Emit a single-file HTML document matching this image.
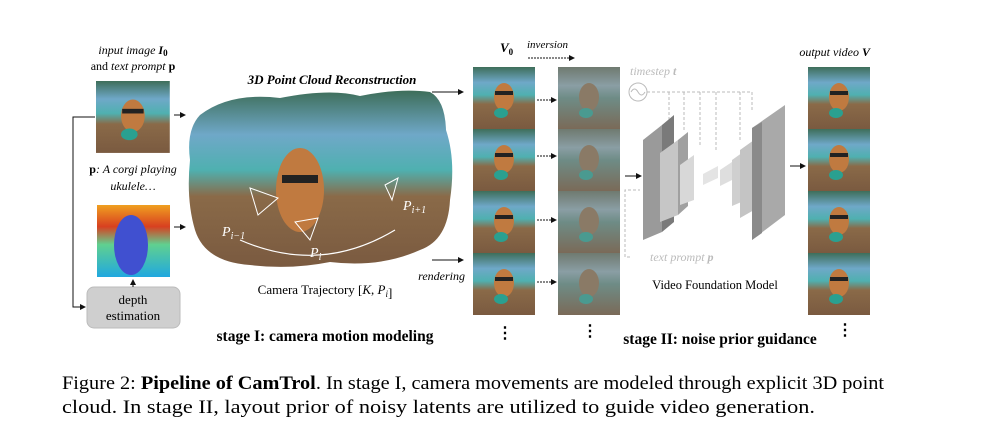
<!DOCTYPE html>
<html><head><meta charset="utf-8"><style>
body{margin:0;background:#fff;}
svg{display:block;font-family:"Liberation Serif",serif;}
</style></head><body>
<svg width="998" height="430" viewBox="0 0 998 430" xmlns="http://www.w3.org/2000/svg">
<defs>
<linearGradient id="photo" x1="0" y1="0" x2="0" y2="1">
<stop offset="0" stop-color="#3e6e5a"/><stop offset="0.25" stop-color="#6fa8c8"/><stop offset="0.45" stop-color="#4fb0b0"/><stop offset="0.6" stop-color="#8a6a48"/><stop offset="1" stop-color="#7a5a40"/>
</linearGradient>
<linearGradient id="noisy" x1="0" y1="0" x2="0" y2="1">
<stop offset="0" stop-color="#6f7a70"/><stop offset="0.3" stop-color="#8a9ea4"/><stop offset="0.5" stop-color="#6e8c86"/><stop offset="1" stop-color="#7a6a58"/>
</linearGradient>
<linearGradient id="depth" x1="0" y1="0" x2="0" y2="1">
<stop offset="0" stop-color="#f0a020"/><stop offset="0.3" stop-color="#d84020"/><stop offset="0.55" stop-color="#60d090"/><stop offset="1" stop-color="#20a8e0"/>
</linearGradient>
<marker id="ah" markerWidth="6" markerHeight="6" refX="5" refY="3" orient="auto"><path d="M0,0 L6,3 L0,6z" fill="#111"/></marker>
<marker id="ahg" markerWidth="6" markerHeight="6" refX="5" refY="3" orient="auto"><path d="M0,0 L6,3 L0,6z" fill="#aaa"/></marker>
<g id="frame"><rect width="62" height="62" fill="url(#photo)"/><ellipse cx="31" cy="30" rx="10" ry="14" fill="#c07a40"/><rect x="22" y="24" width="18" height="4" fill="#222"/><ellipse cx="28" cy="46" rx="7" ry="5" fill="#2aa090"/></g>
<g id="nframe"><rect width="62" height="62" fill="url(#noisy)"/><ellipse cx="31" cy="30" rx="10" ry="14" fill="#8a7a66"/><ellipse cx="28" cy="46" rx="7" ry="5" fill="#4a9a90"/></g>
</defs>

<!-- left inputs -->
<text x="133" y="54" font-size="12" font-style="italic" text-anchor="middle">input image <tspan font-weight="bold">I</tspan><tspan font-weight="bold" font-style="normal" font-size="9" dy="2">0</tspan></text>
<text x="133" y="70" font-size="12" text-anchor="middle">and <tspan font-style="italic">text prompt</tspan> <tspan font-weight="bold">p</tspan></text>
<use href="#frame" transform="translate(96,81) scale(1.19,1.16)"/>
<text x="133" y="173" font-size="12" font-style="italic" text-anchor="middle"><tspan font-weight="bold" font-style="normal">p</tspan>: A corgi playing</text>
<text x="133" y="190" font-size="12" font-style="italic" text-anchor="middle">ukulele…</text>
<rect x="97" y="205" width="73" height="72" fill="url(#depth)"/>
<ellipse cx="131" cy="245" rx="17" ry="30" fill="#4050d0"/>
<rect x="87" y="287" width="93" height="41" rx="7" fill="#cfcfcf" stroke="#bbb"/>
<text x="133" y="304" font-size="13" text-anchor="middle">depth</text>
<text x="133" y="320" font-size="13" text-anchor="middle">estimation</text>
<line x1="133" y1="287" x2="133" y2="280" stroke="#111" marker-end="url(#ah)"/>
<polyline points="95,117 73,117 73,307 85,307" fill="none" stroke="#111" marker-end="url(#ah)"/>
<line x1="174" y1="115" x2="185" y2="115" stroke="#111" marker-end="url(#ah)"/>
<line x1="174" y1="227" x2="185" y2="227" stroke="#111" marker-end="url(#ah)"/>

<!-- point cloud -->
<text x="332" y="84" font-size="13" font-weight="bold" font-style="italic" text-anchor="middle">3D Point Cloud Reconstruction</text>
<path d="M200,115 Q230,92 280,98 Q330,88 360,96 Q400,88 430,92 Q445,100 446,130 Q456,160 450,200 Q448,240 420,250 Q380,268 330,262 Q290,270 250,265 Q205,262 195,230 Q186,200 190,160 Q186,130 200,115z" fill="url(#photo)"/>
<ellipse cx="300" cy="190" rx="24" ry="42" fill="#c07a40"/>
<rect x="282" y="175" width="36" height="8" fill="#222"/>
<path d="M240,240 Q320,275 395,230" fill="none" stroke="#fff" stroke-width="1.2"/>
<path d="M250,188 L278,198 L258,215z M385,185 L398,178 L392,200z M295,222 L318,218 L310,240z" fill="none" stroke="#fff"/>
<text x="222" y="236" font-size="14" font-style="italic" fill="#fff">P<tspan font-size="10" dy="3">i−1</tspan></text>
<text x="403" y="210" font-size="14" font-style="italic" fill="#fff">P<tspan font-size="10" dy="3">i+1</tspan></text>
<text x="310" y="257" font-size="14" font-style="italic" fill="#fff">P<tspan font-size="10" dy="3">i</tspan></text>
<text x="325" y="294" font-size="13" text-anchor="middle">Camera Trajectory [<tspan font-style="italic">K</tspan>, <tspan font-style="italic">P<tspan font-size="9" dy="3">i</tspan></tspan>]</text>
<text x="325" y="341" font-size="15.5" font-weight="bold" text-anchor="middle">stage I: camera motion modeling</text>
<line x1="432" y1="92" x2="463" y2="92" stroke="#111" marker-end="url(#ah)"/>
<line x1="432" y1="260" x2="463" y2="260" stroke="#111" marker-end="url(#ah)"/>
<text x="465" y="280" font-size="12" font-style="italic" text-anchor="end">rendering</text>

<!-- columns -->
<text x="500" y="52" font-size="13" font-weight="bold" font-style="italic">V<tspan font-size="9" dy="3" font-style="normal">0</tspan></text>
<text x="527" y="48" font-size="11" font-style="italic">inversion</text>
<line x1="528" y1="58" x2="574" y2="58" stroke="#111" stroke-dasharray="2,1" marker-end="url(#ah)"/>
<use href="#frame" transform="translate(473,67)"/>
<use href="#frame" transform="translate(473,129)"/>
<use href="#frame" transform="translate(473,191)"/>
<use href="#frame" transform="translate(473,253)"/>
<use href="#nframe" transform="translate(558,67)"/>
<use href="#nframe" transform="translate(558,129)"/>
<use href="#nframe" transform="translate(558,191)"/>
<use href="#nframe" transform="translate(558,253)"/>
<g stroke="#111" stroke-dasharray="2,1" marker-end="url(#ah)">
<line x1="537" y1="100" x2="556" y2="100"/><line x1="537" y1="156" x2="556" y2="156"/>
<line x1="537" y1="220" x2="556" y2="220"/><line x1="537" y1="282" x2="556" y2="282"/></g>
<use href="#frame" transform="translate(808,67)"/>
<use href="#frame" transform="translate(808,129)"/>
<use href="#frame" transform="translate(808,191)"/>
<use href="#frame" transform="translate(808,253)"/>
<text x="870" y="56" font-size="12" font-style="italic" text-anchor="end">output video <tspan font-weight="bold">V</tspan></text>

<!-- UNet -->
<text x="630" y="75" font-size="12" font-style="italic" fill="#bbb">timestep <tspan font-weight="bold">t</tspan></text>
<circle cx="638" cy="92" r="9" fill="none" stroke="#bbb"/>
<path d="M631,92 q3.5,-6 7,0 q3.5,6 7,0" fill="none" stroke="#bbb"/>
<g stroke="#bbb" stroke-dasharray="3,2" fill="none">
<polyline points="647,92 752,92 752,110"/>
<line x1="669" y1="92" x2="669" y2="120"/><line x1="684" y1="92" x2="684" y2="130"/>
<line x1="700" y1="92" x2="700" y2="145"/><line x1="716" y1="92" x2="716" y2="150"/><line x1="740" y1="92" x2="740" y2="140"/>
<polyline points="630,257 625,257 625,190 640,190"/>
</g>
<polygon points="643,140 662,125 662,232 643,240" fill="#9a9a9a"/>
<polygon points="662,125 674,115 674,222 662,232" fill="#7a7a7a"/>
<polygon points="660,153 678,140 678,215 660,222" fill="#c6c6c6"/>
<polygon points="678,140 688,132 688,206 678,215" fill="#a0a0a0"/>
<polygon points="680,165 694,155 694,200 680,205" fill="#d8d8d8"/>
<polygon points="703,174 718,166 718,178 703,185" fill="#e4e4e4"/>
<polygon points="720,170 732,162 732,180 720,186" fill="#dedede"/>
<polygon points="732,160 746,150 746,200 732,206" fill="#cfcfcf"/>
<polygon points="740,150 754,140 754,210 740,218" fill="#c4c4c4"/>
<polygon points="752,128 785,105 785,215 752,240" fill="#a9a9a9"/>
<polygon points="752,128 762,122 762,233 752,240" fill="#8a8a8a"/>
<line x1="625" y1="176" x2="641" y2="176" stroke="#111" marker-end="url(#ah)"/>
<line x1="790" y1="166" x2="805" y2="166" stroke="#111" marker-end="url(#ah)"/>
<text x="650" y="261" font-size="12" font-style="italic" fill="#bbb">text prompt <tspan font-weight="bold">p</tspan></text>
<text x="715" y="289" font-size="12.5" text-anchor="middle">Video Foundation Model</text>
<text x="720" y="344" font-size="15.5" font-weight="bold" text-anchor="middle">stage II: noise prior guidance</text>
<g font-size="16" font-weight="bold" text-anchor="middle">
<text x="505" y="338">⋮</text><text x="590" y="336">⋮</text><text x="845" y="335">⋮</text></g>

<!-- caption -->
<text x="62" y="389" font-size="19" textLength="822" lengthAdjust="spacingAndGlyphs">Figure 2: <tspan font-weight="bold">Pipeline of CamTrol</tspan>. In stage I, camera movements are modeled through explicit 3D point</text>
<text x="62" y="413" font-size="19" textLength="753" lengthAdjust="spacingAndGlyphs">cloud. In stage II, layout prior of noisy latents are utilized to guide video generation.</text>
</svg>
</body></html>
